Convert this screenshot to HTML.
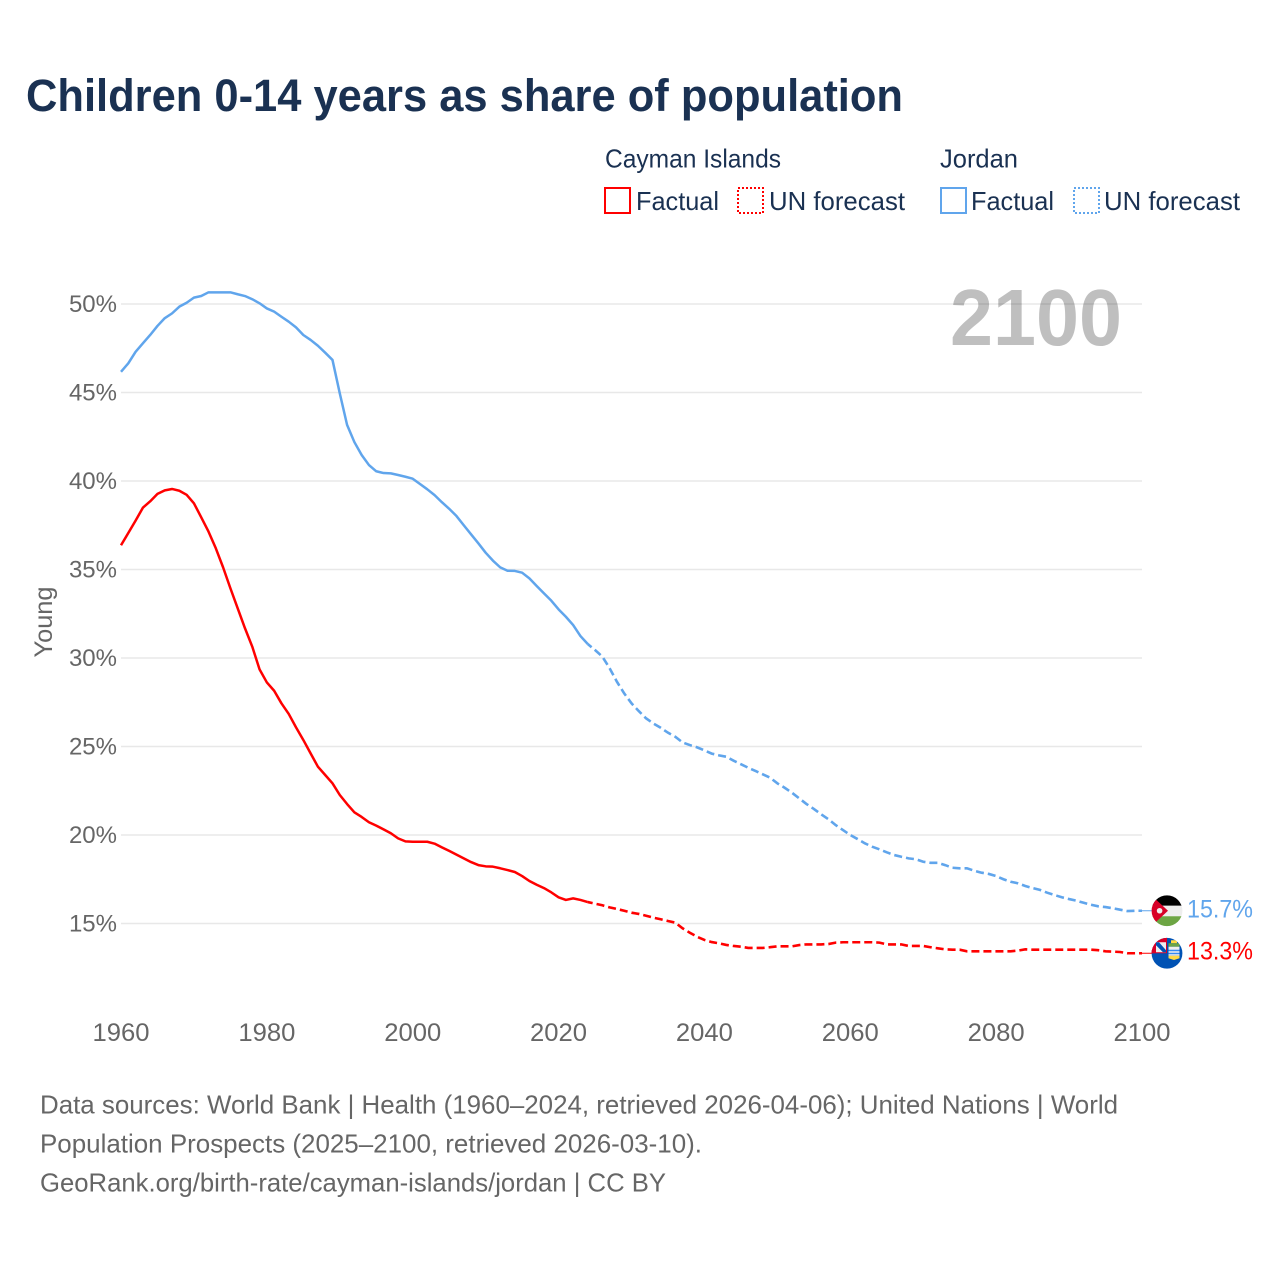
<!DOCTYPE html>
<html lang="en">
<head>
<meta charset="utf-8">
<title>Children 0-14 years as share of population</title>
<style>
  html, body { margin: 0; padding: 0; background: #fff; }
  svg { display: block; font-family: "Liberation Sans", sans-serif; }
</style>
</head>
<body>
<svg id="chart" xmlns="http://www.w3.org/2000/svg" width="1280" height="1280" viewBox="0 0 1280 1280">
  <defs>
    <clipPath id="flag-clip"><circle cx="0" cy="0" r="15.4"></circle></clipPath>
  </defs>
  <rect width="1280" height="1280" fill="#ffffff"></rect>

  <text x="26" y="111" font-size="45" font-weight="700" fill="#1a3152" textLength="877" lengthAdjust="spacingAndGlyphs">Children 0-14 years as share of population</text>

  <g font-size="26" fill="#1a3152">
    <text x="605" y="167.5" textLength="176" lengthAdjust="spacingAndGlyphs">Cayman Islands</text>
    <text x="940" y="167.5" textLength="78" lengthAdjust="spacingAndGlyphs">Jordan</text>

    <rect x="605" y="188" width="25" height="25" fill="none" stroke="#ff0000" stroke-width="2"></rect>
    <text x="636" y="210" textLength="83" lengthAdjust="spacingAndGlyphs">Factual</text>
    <rect x="738" y="188" width="25" height="25" fill="none" stroke="#ff0000" stroke-width="2" stroke-dasharray="2 2"></rect>
    <text x="769" y="210" textLength="136" lengthAdjust="spacingAndGlyphs">UN forecast</text>

    <rect x="941" y="188" width="25" height="25" fill="none" stroke="#60a5ec" stroke-width="2"></rect>
    <text x="971" y="210" textLength="83" lengthAdjust="spacingAndGlyphs">Factual</text>
    <rect x="1074" y="188" width="25" height="25" fill="none" stroke="#60a5ec" stroke-width="2" stroke-dasharray="2 2"></rect>
    <text x="1104" y="210" textLength="136" lengthAdjust="spacingAndGlyphs">UN forecast</text>
  </g>

  <g id="grid"></g>
  <text x="950" y="345" font-size="80" font-weight="700" fill="#000000" fill-opacity="0.25" textLength="172" lengthAdjust="spacingAndGlyphs">2100</text>
  <g id="y-ticks"></g>
  <g id="x-ticks"></g>
  <text transform="translate(52 622) rotate(-90)" text-anchor="middle" font-size="25" fill="#666666" textLength="71" lengthAdjust="spacingAndGlyphs">Young</text>

  <g id="series"></g>

  <g id="flag-jordan">
    <g clip-path="url(#flag-clip)">
      <rect x="-16" y="-16" width="32" height="11" fill="#000000"></rect>
      <rect x="-16" y="-5" width="32" height="10.5" fill="#eeeeee"></rect>
      <rect x="-16" y="5.5" width="32" height="11" fill="#6da544"></rect>
      <polygon points="-13,-13 1,0 -13,13 -16,13 -16,-13" fill="#d80027"></polygon>
      <circle cx="-7.4" cy="0" r="2.8" fill="#eeeeee"></circle>
    </g>
  </g>
  <g id="flag-cayman">
    <g clip-path="url(#flag-clip)">
      <rect x="-16" y="-16" width="32" height="32" fill="#0052b4"></rect>
      <rect x="-16" y="-16" width="16" height="16" fill="#d80027"></rect>
      <rect x="-11" y="-11" width="10" height="10" fill="#eeeeee"></rect>
      <polygon points="-11,-11 -8,-11 -1,-3 -1,-1 -4,-1 -11,-8" fill="#0052b4"></polygon>
      <rect x="-16" y="-16" width="5" height="16" fill="#d80027"></rect>
      <rect x="4" y="-13" width="6" height="3" fill="#ffda44"></rect>
      <rect x="1.5" y="-10" width="11" height="3.5" fill="#6da544"></rect>
      <rect x="1.5" y="-6.5" width="11" height="9" fill="#eeeeee"></rect>
      <rect x="1.5" y="-3.5" width="11" height="1.5" fill="#338af3"></rect>
      <rect x="1.5" y="-0.5" width="11" height="1.5" fill="#338af3"></rect>
      <polygon points="1.5,2.5 12.5,2.5 12.5,5 7,6.8 1.5,5" fill="#ffda44"></polygon>
    </g>
  </g>

  <g id="end-labels"></g>

  <g font-size="26" fill="#666666">
    <text x="40" y="1113.5" textLength="1078" lengthAdjust="spacingAndGlyphs">Data sources: World Bank | Health (1960–2024, retrieved 2026-04-06); United Nations | World</text>
    <text x="40" y="1152.5" textLength="662" lengthAdjust="spacingAndGlyphs">Population Prospects (2025–2100, retrieved 2026-03-10).</text>
    <text x="40" y="1191.5" textLength="626" lengthAdjust="spacingAndGlyphs">GeoRank.org/birth-rate/cayman-islands/jordan | CC BY</text>
  </g>
</svg>

<script>
const startYear = 1960;
const lastFactualYear = 2024;
const yTickValues = [15, 20, 25, 30, 35, 40, 45, 50];
const xTickValues = [1960, 1980, 2000, 2020, 2040, 2060, 2080, 2100];

const jordanValues = [
  46.17,46.65,47.3,47.78,48.25,48.76,49.2,49.47,49.85,50.07,
  50.36,50.45,50.66,50.66,50.66,50.66,50.55,50.45,50.27,50.04,
  49.75,49.57,49.28,49.0,48.68,48.25,47.97,47.64,47.25,46.84,
  44.95,43.17,42.2,41.47,40.9,40.55,40.45,40.43,40.34,40.24,
  40.13,39.83,39.53,39.2,38.8,38.43,38.02,37.5,36.99,36.48,
  35.95,35.5,35.12,34.93,34.92,34.82,34.5,34.07,33.65,33.24,
  32.75,32.33,31.86,31.24,30.79,30.45,30.08,29.42,28.66,28.0,
  27.44,27.0,26.59,26.3,26.06,25.78,25.55,25.23,25.08,24.95,
  24.78,24.6,24.5,24.42,24.2,24.0,23.8,23.62,23.43,23.24,
  22.92,22.67,22.39,22.07,21.75,21.47,21.17,20.89,20.56,20.28,
  20.0,19.77,19.53,19.34,19.19,19.02,18.87,18.77,18.68,18.63,
  18.49,18.43,18.43,18.3,18.15,18.12,18.12,17.98,17.87,17.8,
  17.68,17.5,17.36,17.27,17.12,17.0,16.9,16.74,16.61,16.48,
  16.38,16.29,16.17,16.06,15.97,15.93,15.86,15.78,15.7,15.72,
  15.72
];

const caymanValues = [
  36.37,37.06,37.76,38.49,38.85,39.27,39.47,39.55,39.45,39.22,
  38.74,37.95,37.14,36.2,35.12,33.94,32.81,31.68,30.64,29.36,
  28.62,28.15,27.44,26.84,26.08,25.37,24.61,23.86,23.39,22.92,
  22.26,21.75,21.28,21.02,20.72,20.53,20.32,20.1,19.81,19.64,
  19.62,19.62,19.62,19.51,19.3,19.1,18.89,18.68,18.47,18.3,
  18.23,18.21,18.12,18.02,17.91,17.68,17.4,17.19,17.0,16.76,
  16.48,16.33,16.42,16.33,16.21,16.12,16.03,15.91,15.82,15.72,
  15.61,15.54,15.44,15.33,15.24,15.14,15.05,14.73,14.48,14.25,
  14.07,13.95,13.88,13.79,13.73,13.69,13.62,13.62,13.62,13.66,
  13.71,13.71,13.71,13.78,13.82,13.82,13.82,13.84,13.92,13.94,
  13.94,13.94,13.94,13.94,13.92,13.82,13.82,13.82,13.73,13.73,
  13.73,13.66,13.6,13.54,13.52,13.52,13.43,13.43,13.43,13.43,
  13.43,13.43,13.43,13.47,13.54,13.52,13.52,13.52,13.52,13.52,
  13.52,13.52,13.52,13.52,13.49,13.43,13.41,13.39,13.32,13.32,
  13.32
];

const NS = 'http://www.w3.org/2000/svg';
const xOf = function (year) { return 121 + (year - 1960) * (1142 - 121) / 140; };
const yOf = function (value) { return 923.5 - (value - 15) * 17.7; };
const FLAG_X = 1167;

function pathFor(values, fromYear, toYear) {
  let d = '';
  for (let yr = fromYear; yr <= toYear; yr++) {
    d += (d ? 'L' : 'M') + xOf(yr).toFixed(2) + ' ' + yOf(values[yr - startYear]).toFixed(2);
  }
  return d;
}

const grid = document.getElementById('grid');
const yTicks = document.getElementById('y-ticks');
yTickValues.forEach(function (v) {
  const line = document.createElementNS(NS, 'line');
  
  
  line.setAttribute('x1', xOf(1960));
  line.setAttribute('x2', xOf(2100));
  line.setAttribute('y1', yOf(v));
  line.setAttribute('y2', yOf(v));
  line.setAttribute('stroke', '#e8e8e8');
  line.setAttribute('stroke-width', '1.4');
  grid.appendChild(line);

  const t = document.createElementNS(NS, 'text');
  
  
  t.setAttribute('x', 117);
  t.setAttribute('y', yOf(v) + 8);
  t.setAttribute('text-anchor', 'end');
  t.setAttribute('font-size', '24');
  t.setAttribute('fill', '#666666');
  t.textContent = v + '%';
  yTicks.appendChild(t);
});

const xTicks = document.getElementById('x-ticks');
xTickValues.forEach(function (yr) {
  const t = document.createElementNS(NS, 'text');
  
  
  t.setAttribute('x', xOf(yr));
  t.setAttribute('y', 1041);
  t.setAttribute('text-anchor', 'middle');
  t.setAttribute('font-size', '25');
  t.setAttribute('fill', '#666666');
  t.setAttribute('textLength', '57');
  t.setAttribute('lengthAdjust', 'spacingAndGlyphs');
  t.textContent = yr;
  xTicks.appendChild(t);
});

const seriesGroup = document.getElementById('series');
const endLabels = document.getElementById('end-labels');

function drawSeries(key, values, color) {
  const lastYear = startYear + values.length - 1;
  const lastValue = values[values.length - 1];

  const solid = document.createElementNS(NS, 'path');
  
  
  solid.setAttribute('d', pathFor(values, startYear, lastFactualYear));
  solid.setAttribute('fill', 'none');
  solid.setAttribute('stroke', color);
  solid.setAttribute('stroke-width', '2.5');
  solid.setAttribute('stroke-linejoin', 'round');
  seriesGroup.appendChild(solid);

  const dashed = document.createElementNS(NS, 'path');
  
  
  dashed.setAttribute('d', pathFor(values, lastFactualYear, lastYear));
  dashed.setAttribute('fill', 'none');
  dashed.setAttribute('stroke', color);
  dashed.setAttribute('stroke-width', '2.6');
  dashed.setAttribute('stroke-dasharray', '8 4');
  dashed.setAttribute('stroke-dashoffset', '3');
  seriesGroup.appendChild(dashed);

  const connector = document.createElementNS(NS, 'line');
  
  
  connector.setAttribute('x1', xOf(lastYear));
  connector.setAttribute('x2', FLAG_X);
  connector.setAttribute('y1', yOf(lastValue));
  connector.setAttribute('y2', yOf(lastValue));
  connector.setAttribute('stroke', color);
  connector.setAttribute('stroke-width', '1');
  seriesGroup.appendChild(connector);

  const label = document.createElementNS(NS, 'text');
  
  
  label.setAttribute('x', 1187);
  label.setAttribute('y', yOf(lastValue) + 6.5);
  label.setAttribute('font-size', '25');
  label.setAttribute('fill', color);
  label.setAttribute('textLength', '66');
  label.setAttribute('lengthAdjust', 'spacingAndGlyphs');
  label.textContent = lastValue.toFixed(1) + '%';
  endLabels.appendChild(label);
}

drawSeries('cayman', caymanValues, '#ff0000');
drawSeries('jordan', jordanValues, '#60a5ec');

document.getElementById('flag-jordan').setAttribute('transform', 'translate(' + FLAG_X + ' ' + yOf(jordanValues[jordanValues.length - 1]) + ')');
document.getElementById('flag-cayman').setAttribute('transform', 'translate(' + FLAG_X + ' ' + yOf(caymanValues[caymanValues.length - 1]) + ')');
</script>
</body>
</html>
